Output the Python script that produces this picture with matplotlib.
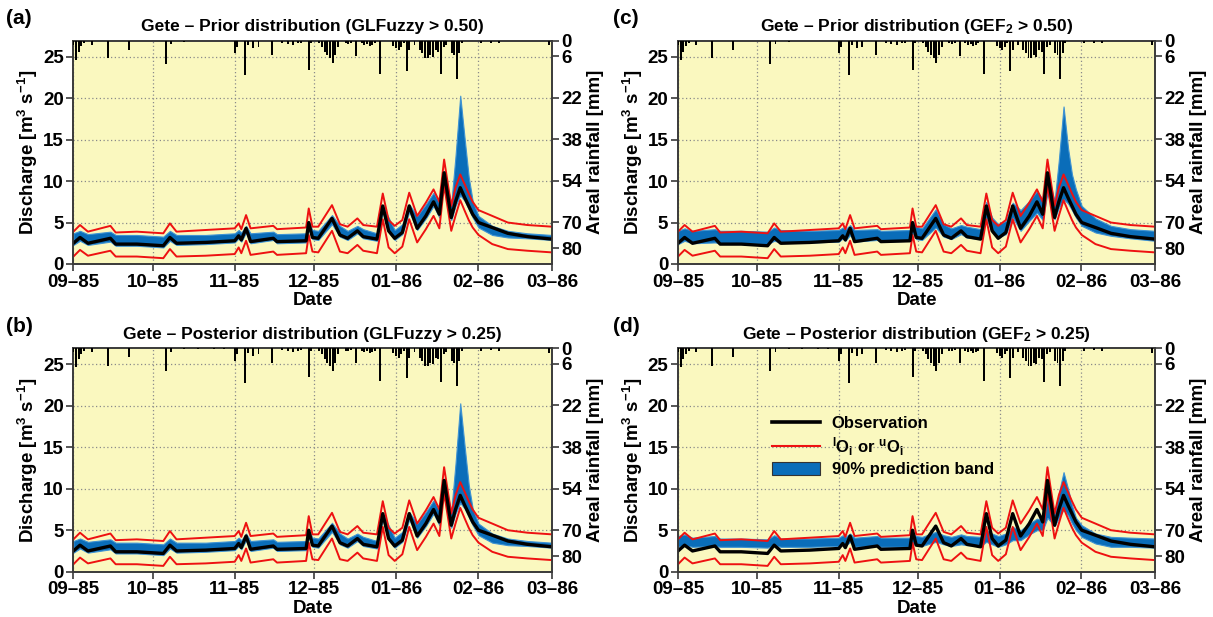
import numpy as np
import matplotlib
matplotlib.use("Agg")
import matplotlib.pyplot as plt
import matplotlib.dates as mdates
from matplotlib.lines import Line2D
from matplotlib.patches import Patch
from datetime import datetime

plt.rcParams['font.family'] = ['Liberation Sans', 'DejaVu Sans']
plt.rcParams['font.weight'] = 'bold'
plt.rcParams['mathtext.fontset'] = 'custom'
plt.rcParams['mathtext.rm'] = 'Liberation Sans:bold'
plt.rcParams['mathtext.bf'] = 'Liberation Sans:bold'
plt.rcParams['mathtext.it'] = 'Liberation Sans:bold'
plt.rcParams['mathtext.default'] = 'bf'

# ---------------- data (days since 1985-09-01) ----------------
days = [0, 2.5, 5.5, 14, 16, 24, 34, 36.5, 39, 50, 61, 62.5, 63.5, 65.3, 67,
        75.6, 77, 88, 89, 90.4, 92.6, 97.8, 100.8, 103.7, 107.4, 109.6, 114.8,
        117, 119.2, 121.5, 124.4, 127, 130, 133.3, 136.2, 138.4, 140.2, 142.9,
        144.5, 146.3, 148, 149.5, 151, 153.2, 158.4, 164.3, 171.7, 181]

observation = [2.5, 3.2, 2.5, 3.1, 2.4, 2.4, 2.2, 3.2, 2.5, 2.6, 2.8, 3.4, 2.9, 4.3, 2.7,
               3.1, 2.7, 2.8, 5.0, 3.2, 3.1, 5.5, 3.5, 3.1, 4.0, 3.3, 3.0,
               7.0, 4.0, 3.1, 3.8, 7.0, 4.3, 5.8, 7.5, 6.0, 11.0, 5.6,
               7.5, 9.2, 8.0, 7.0, 6.0, 5.0, 4.4, 3.7, 3.3, 3.0]

obs_upper = [3.9, 4.7, 3.9, 4.6, 3.8, 3.9, 3.7, 4.9, 3.9, 4.1, 4.3, 4.9, 4.2, 5.9, 4.3,
             4.6, 4.2, 4.4, 6.7, 4.5, 4.5, 7.1, 4.8, 4.5, 5.5, 4.7, 4.5,
             8.5, 5.3, 4.6, 5.3, 8.6, 5.8, 7.4, 9.0, 7.5, 12.6, 7.0,
             9.2, 10.8, 9.6, 8.5, 7.5, 6.5, 5.8, 5.0, 4.7, 4.5]

obs_lower = [0.9, 1.7, 1.0, 1.6, 0.9, 0.9, 0.7, 1.8, 0.9, 1.0, 1.2, 2.0, 1.3, 2.8, 1.1,
             1.5, 1.1, 1.3, 3.5, 1.5, 1.4, 4.0, 1.5, 1.3, 2.3, 1.6, 1.3,
             5.4, 2.0, 1.3, 2.1, 5.4, 2.6, 4.2, 5.8, 4.3, 9.5, 4.0,
             5.8, 7.7, 6.4, 5.3, 4.4, 3.5, 2.4, 1.8, 1.6, 1.4]

# 90% prediction band, GLFuzzy (prior and posterior look alike)
glf_low = [2.3, 2.8, 2.3, 2.7, 2.2, 2.2, 2.0, 2.8, 2.3, 2.4, 2.6, 3.1, 2.7, 3.8, 2.5,
           2.9, 2.5, 2.6, 4.2, 3.0, 2.9, 4.8, 3.3, 2.9, 3.7, 3.1, 2.8,
           6.3, 3.9, 2.9, 3.6, 6.3, 4.1, 5.5, 7.0, 5.6, 10.2, 5.3,
           7.0, 8.3, 7.6, 6.6, 5.6, 4.4, 3.5, 3.2, 3.1, 2.9]
glf_high = [3.7, 4.0, 3.6, 3.9, 3.5, 3.5, 3.3, 4.0, 3.5, 3.5, 3.7, 4.1, 3.8, 4.6, 3.7,
            3.9, 3.6, 3.7, 5.0, 4.1, 4.0, 5.9, 4.6, 4.0, 4.6, 4.2, 3.7,
            7.0, 5.6, 4.1, 4.8, 7.2, 5.8, 7.2, 8.6, 7.4, 11.2, 7.3,
            13.0, 20.3, 15.0, 10.5, 7.6, 5.8, 4.6, 4.0, 3.7, 3.5]

# 90% prediction band, GEF2 prior
gef_prior_low = [2.4, 2.8, 2.5, 2.6, 2.5, 2.5, 2.4, 2.8, 2.6, 2.6, 2.7, 3.1, 2.8, 3.5, 2.7,
                 2.9, 2.7, 2.8, 3.8, 3.0, 2.9, 4.4, 3.3, 3.0, 3.6, 3.2, 3.0,
                 5.5, 3.8, 3.2, 3.6, 5.6, 4.0, 5.2, 6.2, 5.3, 8.6, 5.4,
                 6.8, 7.8, 7.3, 6.5, 5.6, 4.6, 3.8, 3.4, 3.1, 2.8]
gef_prior_high = [4.0, 4.3, 4.0, 4.2, 4.0, 4.0, 3.9, 4.4, 4.1, 4.0, 4.1, 4.4, 4.2, 4.7, 4.1,
                  4.2, 4.0, 4.1, 5.1, 4.5, 4.3, 6.6, 4.8, 4.3, 4.7, 4.5, 4.2,
                  7.5, 5.6, 4.8, 5.2, 7.4, 6.5, 7.6, 8.8, 7.8, 11.0, 7.6,
                  12.5, 19.0, 14.0, 10.8, 9.0, 7.0, 5.5, 4.6, 4.2, 4.0]

# 90% prediction band, GEF2 posterior
gef_post_low = [3.0, 3.2, 3.0, 3.1, 3.0, 3.0, 2.9, 3.2, 3.0, 3.0, 3.1, 3.3, 3.1, 3.6, 3.0,
                3.1, 3.0, 3.0, 3.4, 3.2, 3.1, 3.6, 3.3, 3.1, 3.3, 3.2, 3.1,
                3.6, 3.3, 3.0, 3.3, 3.8, 3.8, 4.5, 5.0, 5.0, 6.5, 5.5,
                6.5, 7.5, 6.8, 5.8, 5.0, 4.2, 3.4, 3.0, 3.0, 2.9]
gef_post_high = [4.3, 4.5, 4.1, 4.3, 4.0, 4.0, 3.9, 4.4, 4.0, 4.0, 4.1, 4.4, 4.2, 4.6, 4.1,
                 4.3, 4.1, 4.1, 4.6, 4.3, 4.2, 4.8, 4.4, 4.2, 4.5, 4.3, 4.2,
                 5.0, 4.6, 4.3, 4.6, 5.4, 5.0, 5.8, 6.4, 6.2, 9.0, 7.0,
                 9.5, 12.0, 10.0, 8.0, 6.5, 5.6, 4.6, 4.2, 4.1, 4.0]

# daily areal rainfall [mm]
rain_days = [0, 1, 2, 3, 4, 7, 13, 21, 35, 37, 42, 47, 53, 57, 61, 62, 65, 66, 68, 70,
             75, 79, 81, 83, 85, 86, 89, 90, 93, 94, 95, 96, 97, 98, 99, 100, 103,
             104, 105, 107, 109, 110, 111, 112, 113, 114, 116, 121, 122, 123, 124,
             125, 126, 127, 129, 131, 132, 133, 134, 135, 136, 137, 138, 139, 140,
             141, 143, 144, 145, 146, 147, 154, 158, 161, 180]
rain_mm = [1.5, 7.3, 4.2, 2.2, 1.0, 1.5, 6.7, 3.5, 8.9, 1.3, 0.4, 0.3, 0.3, 0.3, 4.9, 2.3,
           13.2, 1.7, 3.0, 2.3, 5.5, 0.8, 1.2, 1.5, 1.0, 0.8, 11.2, 1.0, 1.0, 2.3, 4.2,
           5.5, 6.8, 8.7, 5.5, 2.3, 1.0, 1.2, 0.8, 5.7, 1.0, 1.5, 1.2, 2.0, 1.5, 1.0,
           12.7, 2.0, 3.0, 3.6, 2.3, 1.0, 11.6, 3.6, 1.5, 3.6, 4.9, 6.8, 6.8, 5.5,
           6.2, 3.6, 4.2, 12.8, 2.3, 1.5, 4.9, 5.5, 14.6, 4.9, 1.0, 1.0, 0.8, 1.0, 1.7]

rain_ticks = [0, 6, 22, 38, 54, 70, 80]
q_ticks = [0, 5, 10, 15, 20, 25]

panels = [
    ("(a)", "Gete \u2013 Prior distribution (GLFuzzy > 0.50)", glf_low, glf_high),
    ("(b)", "Gete \u2013 Posterior distribution (GLFuzzy > 0.25)", glf_low, glf_high),
    ("(c)", r"Gete \u2013 Prior distribution (GEF$_2$ > 0.50)".replace("\\u2013", "\u2013"), gef_prior_low, gef_prior_high),
    ("(d)", r"Gete \u2013 Posterior distribution (GEF$_2$ > 0.25)".replace("\\u2013", "\u2013"), gef_post_low, gef_post_high),
]

# ---------------- figure ----------------
W, H = 1213, 617
fig = plt.figure(figsize=(W / 100, H / 100), dpi=100)

def frac(left, top, right, bottom):
    return [left / W, 1 - bottom / H, (right - left) / W, (bottom - top) / H]

rects = {
    "(a)": frac(73.4, 40.7, 552, 264),
    "(b)": frac(73.4, 348.3, 552, 571.7),
    "(c)": frac(678, 40.7, 1155, 264),
    "(d)": frac(678, 348.3, 1155, 571.7),
}
letter_pos = {"(a)": (6, 19), "(b)": (6, 327), "(c)": (613, 19), "(d)": (613, 327)}

base = mdates.date2num(datetime(1985, 9, 1))
x = base + np.array(days, dtype=float)
xr = base + np.array(rain_days, dtype=float)
xmin = base
xmax = mdates.date2num(datetime(1986, 3, 1))

bg = '#FAF8BF'
blue = '#0A6DB9'
tick_fs = 13.5
spine_col = '#3a3a3a'

for letter, title, blo, bhi in panels:
    ax = fig.add_axes(rects[letter])
    ax.set_facecolor(bg)
    ax.fill_between(x, blo, bhi, facecolor=blue, edgecolor='#3f93d3', lw=0.8, zorder=2)
    ax.plot(x, obs_upper, color='#ee1111', lw=1.4, zorder=3)
    ax.plot(x, obs_lower, color='#ee1111', lw=1.4, zorder=3)
    ax.plot(x, observation, color='black', lw=2.4, zorder=4)

    ax.set_xlim(xmin, xmax)
    ax.set_ylim(0, 26.93)
    ax.set_yticks(q_ticks)
    ax.xaxis.set_major_locator(mdates.MonthLocator())
    ax.xaxis.set_major_formatter(mdates.DateFormatter('%m\u2013%y'))
    ax.grid(True, color='#8a8a8a', linestyle=(0, (1, 2)), lw=0.9)
    ax.set_axisbelow(True)
    ax.tick_params(axis='both', labelsize=tick_fs, direction='out', length=5,
                   width=1.2, color=spine_col, pad=2)
    for lab in ax.get_xticklabels() + ax.get_yticklabels():
        lab.set_fontweight('bold')
    for s in ax.spines.values():
        s.set_color(spine_col)
        s.set_linewidth(1.2)
    ax.set_xlabel("Date", fontsize=13.5, fontweight='bold', labelpad=1)
    ax.set_ylabel(r"Discharge [m$^3$ s$^{-1}$]", fontsize=13.5, fontweight='bold', labelpad=2)
    ax.set_title(title, fontsize=12.5, fontweight='bold', pad=7)

    ax2 = ax.twinx()
    ax2.bar(xr, rain_mm, width=0.75, color='black', align='center', zorder=5)
    ax2.set_ylim(86.0, 0)
    ax2.set_yticks(rain_ticks)
    ax2.set_xlim(xmin, xmax)
    ax2.tick_params(axis='y', labelsize=tick_fs, direction='out', length=5,
                    width=1.2, color=spine_col, pad=2)
    for lab in ax2.get_yticklabels():
        lab.set_fontweight('bold')
    for s in ax2.spines.values():
        s.set_color(spine_col)
        s.set_linewidth(1.2)
    ax2.set_ylabel("Areal rainfall [mm]", fontsize=13.5, fontweight='bold', labelpad=3)

    lx, ly = letter_pos[letter]
    fig.text(lx / W, 1 - ly / H, letter, fontsize=15, fontweight='bold', va='center', ha='left')

    if letter == "(d)":
        handles = [Line2D([], [], color='black', lw=2.6),
                   Line2D([], [], color='#ee1111', lw=1.5),
                   Patch(facecolor=blue, edgecolor='#333333', lw=0.8)]
        labels = ["Observation", r"$^{l}$O$_{i}$ or $^{u}$O$_{i}$", "90% prediction band"]
        leg = ax.legend(handles, labels, loc='upper left', bbox_to_anchor=(0.165, 0.765),
                        frameon=False, prop={'size': 12, 'weight': 'bold'},
                        handlelength=2.9, handletextpad=0.7, labelspacing=0.25,
                        handleheight=0.8)
        leg.set_zorder(10)

fig.savefig("out.png", dpi=100)
